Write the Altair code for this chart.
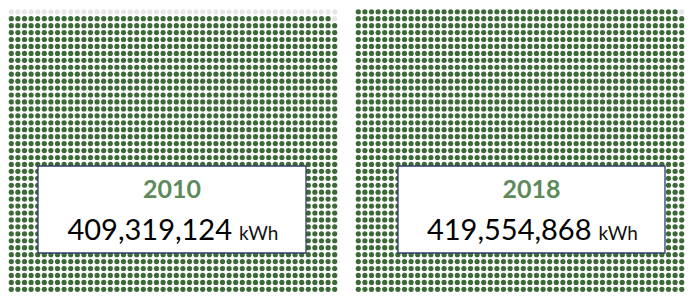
import altair as alt
import pandas as pd

# ---- data ----
years = ["2010", "2018"]
kwh_values = [409319124, 419554868]
empty_dots = [51, 1]          # grey (unfilled) dots at the top of each grid
n_cols = 50
n_rows = 42

GREEN = "#3b6a36"
GREY = "#e6e6e6"
YEAR_COLOR = "#5e8a5b"
BOX_STROKE = "#2e3c6a"
FONT = "Lato"

PW, PH = 330, 285
box_x = [(30, 298), (43, 310)]   # panel-relative box edges
box_y = (158, 245)


def panel(i):
    total = n_cols * n_rows
    filled = total - empty_dots[i]
    dots = pd.DataFrame({"idx": list(range(total))})
    dots["row"] = dots["idx"] // n_cols
    dots["col"] = dots["idx"] % n_cols
    dots["state"] = ["filled" if k < filled else "empty" for k in dots["idx"]]

    circles = (
        alt.Chart(dots)
        .mark_circle(size=27, opacity=1, clip=True)
        .encode(
            x=alt.X("col:Q", scale=alt.Scale(domain=[-0.5, n_cols - 0.5], nice=False, zero=False), axis=None),
            y=alt.Y("row:Q", scale=alt.Scale(domain=[0.47, 41.54], nice=False, zero=False), axis=None),
            color=alt.Color(
                "state:N",
                scale=alt.Scale(domain=["filled", "empty"], range=[GREEN, GREY]),
                legend=None,
            ),
        )
    )

    lab = pd.DataFrame(
        {"year": [years[i]], "value": [f"{kwh_values[i]:,}"], "unit": ["kWh"]}
    )
    x0, x1 = box_x[i]
    cx = (x0 + x1) / 2

    box = (
        alt.Chart(lab)
        .mark_rect(fill="white", stroke=BOX_STROKE, strokeWidth=1.3)
        .encode(x=alt.value(x0), x2=alt.value(x1), y=alt.value(box_y[0]), y2=alt.value(box_y[1]))
    )
    year_t = (
        alt.Chart(lab)
        .mark_text(font=FONT, fontSize=25, fontWeight="bold", color=YEAR_COLOR, align="center", baseline="alphabetic")
        .encode(text="year:N", x=alt.value(cx), y=alt.value(190))
    )
    val_t = (
        alt.Chart(lab)
        .mark_text(font=FONT, fontSize=29, color="#000000", align="right", baseline="alphabetic")
        .encode(text="value:N", x=alt.value(cx + 60), y=alt.value(232))
    )
    unit_t = (
        alt.Chart(lab)
        .mark_text(font=FONT, fontSize=19, color="#111111", align="left", baseline="alphabetic")
        .encode(text="unit:N", x=alt.value(cx + 67), y=alt.value(232))
    )
    return alt.layer(circles, box, year_t, val_t, unit_t).properties(width=PW, height=PH)


chart = (
    alt.hconcat(panel(0), panel(1), spacing=17)
    .properties(padding=0)
    .configure_view(stroke=None)
)

chart.save("out.html", embed_options={"renderer": "svg", "actions": False})
